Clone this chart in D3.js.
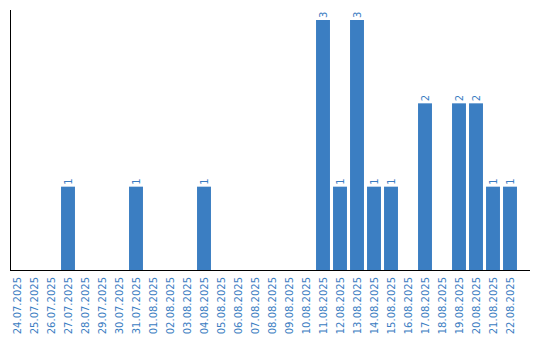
<!DOCTYPE html>
<meta charset="utf-8">
<head>
    <script type="text/javascript" src="https://cdn.jsdelivr.net/npm/d3@7"></script>
    <style>
        body { margin: 0; background: #fff; }
        text { font-family: "DejaVu Sans", Verdana, sans-serif; font-size: 10px; fill: #3b7dc2; }
    </style>
</head>
<body>
    <div id="chart"></div>
    <script>
        // data
        let dates = ["24.07.2025", "25.07.2025", "26.07.2025", "27.07.2025", "28.07.2025", "29.07.2025",
            "30.07.2025", "31.07.2025", "01.08.2025", "02.08.2025", "03.08.2025", "04.08.2025",
            "05.08.2025", "06.08.2025", "07.08.2025", "08.08.2025", "09.08.2025", "10.08.2025",
            "11.08.2025", "12.08.2025", "13.08.2025", "14.08.2025", "15.08.2025", "16.08.2025",
            "17.08.2025", "18.08.2025", "19.08.2025", "20.08.2025", "21.08.2025", "22.08.2025"]
        let counts = [0, 0, 0, 1, 0, 0,
            0, 1, 0, 0, 0, 1,
            0, 0, 0, 0, 0, 0,
            3, 1, 3, 1, 1, 0,
            2, 0, 2, 2, 1, 1]

        let svg_width = 540
        let svg_height = 340
        let barColor = "#3b7ec2"

        let svg = d3.select("#chart")
            .append("svg")
            .attr("width", svg_width)
            .attr("height", svg_height)

        let x = d3.scaleBand()
            .domain(dates)
            .range([8.5, 518.5])
            .paddingInner(0.18)
            .paddingOuter(0.09)

        let y = d3.scaleLinear()
            .domain([0, 3])
            .range([270, 20])

        let rows = dates.map(function (d, i) { return { date: d, n: counts[i] } })

        svg.append("g")
            .selectAll("rect")
            .data(rows.filter(function (d) { return d.n > 0 }))
            .enter()
            .append("rect")
            .attr("x", function (d) { return x(d.date) })
            .attr("width", x.bandwidth())
            .attr("y", function (d) { return y(d.n) })
            .attr("height", function (d) { return y(0) - y(d.n) })
            .attr("fill", barColor)

        // value labels above bars
        svg.append("g")
            .selectAll("text")
            .data(rows.filter(function (d) { return d.n > 0 }))
            .enter()
            .append("text")
            .attr("transform", function (d) {
                return "translate(" + (x(d.date) + x.bandwidth() / 2) + "," + (y(d.n) - 2) + ") rotate(-90)"
            })
            .attr("dy", "0.35em")
            .attr("text-anchor", "start")
            .text(function (d) { return d.n })

        // date labels
        svg.append("g")
            .selectAll("text")
            .data(dates)
            .enter()
            .append("text")
            .attr("transform", function (d) {
                return "translate(" + (x(d) + x.bandwidth() / 2) + ",277) rotate(-90)"
            })
            .attr("dy", "0.35em")
            .attr("text-anchor", "end")
            .text(function (d) { return d })

        // axis lines
        svg.append("line")
            .attr("x1", 10.5).attr("x2", 10.5)
            .attr("y1", 10).attr("y2", 270.5)
            .attr("stroke", "#000")
        svg.append("line")
            .attr("x1", 10).attr("x2", 530)
            .attr("y1", 270.5).attr("y2", 270.5)
            .attr("stroke", "#000")
    </script>
</body>
</html>
